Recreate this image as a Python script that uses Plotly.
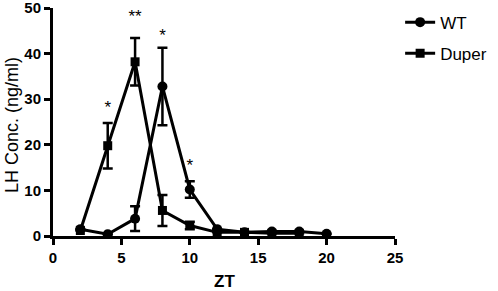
import plotly.graph_objects as go

wt_x = [2, 4, 6, 8, 10, 12, 14, 16, 18, 20]
wt_y = [1.5, 0.4, 3.8, 32.8, 10.2, 1.5, 0.8, 1.0, 1.0, 0.5]
wt_err = [0, 0, 2.7, 8.5, 1.8, 0, 0, 0, 0, 0]

duper_x = [2, 4, 6, 8, 10, 12, 14, 16, 18]
duper_y = [1.2, 19.8, 38.2, 5.6, 2.3, 0.8, 0.8, 0.6, 0.6]
duper_err = [0, 5.0, 5.2, 3.4, 0.8, 0, 0, 0, 0]

sig_x = [4, 6, 8, 10]
sig_y = [28, 47.8, 43.8, 15.1]
sig_text = ["*", "**", "*", "*"]

x_ticks = [0, 5, 10, 15, 20, 25]
y_ticks = [0, 10, 20, 30, 40, 50]

W, H = 498, 291
L, R, T, B = 53, 103, 8, 55
pw, ph = W - L - R, H - T - B

fig = go.Figure()
fig.add_trace(go.Scatter(
    x=wt_x, y=wt_y, name="WT", mode="lines+markers", legendgroup="wt",
    line=dict(color="black", width=3),
    marker=dict(symbol="circle", size=10, color="black"),
    error_y=dict(type="data", array=wt_err, color="black", thickness=2.5, width=5),
))
fig.add_trace(go.Scatter(
    x=duper_x, y=duper_y, name="Duper", mode="lines+markers", legendgroup="duper",
    line=dict(color="black", width=3),
    marker=dict(symbol="square", size=9, color="black"),
    error_y=dict(type="data", array=duper_err, color="black", thickness=2.5, width=5),
))
fig.add_trace(go.Scatter(
    x=sig_x, y=sig_y, text=sig_text, mode="text", showlegend=False,
    textfont=dict(size=17, color="black", family="Liberation Sans"),
))

fig.update_layout(
    width=W, height=H,
    margin=dict(l=L, r=R, t=T, b=B, autoexpand=False),
    paper_bgcolor="white", plot_bgcolor="white",
    font=dict(family="Liberation Sans, Arial", color="black"),
    showlegend=True,
    legend=dict(x=1.015, y=1.015, xanchor="left", yanchor="top",
                font=dict(size=17), bgcolor="rgba(0,0,0,0)",
                tracegroupgap=6, itemwidth=30),
    xaxis=dict(range=[0, 25], tickvals=x_ticks, showgrid=False, zeroline=False,
               showline=True, linecolor="black", linewidth=3, automargin=False,
               ticks="outside", tickwidth=3, ticklen=6, tickcolor="black",
               ticklabeloverflow="allow",
               tickfont=dict(size=15, family="Liberation Sans", weight="bold")),
    yaxis=dict(range=[0, 50], tickvals=y_ticks, showgrid=False, zeroline=False,
               showline=True, linecolor="black", linewidth=3, automargin=False,
               ticks="outside", tickwidth=3, ticklen=6, tickcolor="black",
               ticklabeloverflow="allow",
               tickfont=dict(size=15, family="Liberation Sans", weight="bold")),
    annotations=[
        dict(text="LH Conc. (ng/ml)", textangle=-90, showarrow=False,
             xref="paper", yref="paper", x=(12 - L) / pw, y=(H - B - 125) / ph,
             xanchor="center", yanchor="middle",
             font=dict(size=18, color="black")),
        dict(text="ZT", showarrow=False,
             xref="paper", yref="paper", x=(224 - L) / pw, y=-(281 - (H - B)) / ph,
             xanchor="center", yanchor="middle",
             font=dict(size=17, color="black", weight="bold")),
    ],
)

fig.write_html("out.html", config={"displayModeBar": False},
               post_script="document.body.style.margin='0';document.body.style.overflow='hidden';")
